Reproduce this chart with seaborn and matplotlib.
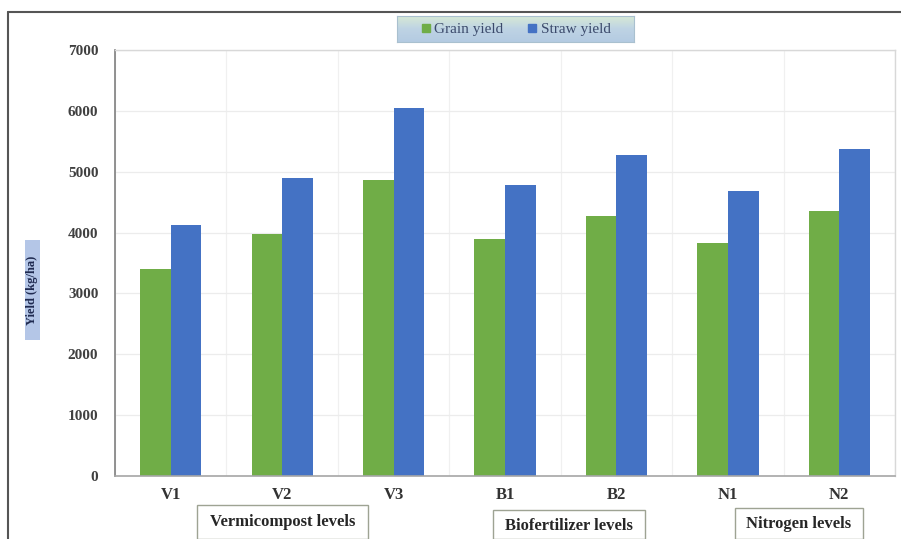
import matplotlib
matplotlib.use("Agg")
import matplotlib.pyplot as plt
import seaborn as sns
import pandas as pd
import numpy as np
from matplotlib.patches import Rectangle
from matplotlib.lines import Line2D
from matplotlib.colors import LinearSegmentedColormap

# ---- data ----
categories = ["V1", "V2", "V3", "B1", "B2", "N1", "N2"]
grain_yield = [3400, 3980, 4870, 3900, 4280, 3830, 4350]
straw_yield = [4120, 4900, 6040, 4780, 5270, 4680, 5370]
series_names = ["Grain yield", "Straw yield"]
series_colors = ["#70AD47", "#4472C4"]
group_labels = ["Vermicompost levels", "Biofertilizer levels", "Nitrogen levels"]
y_ticks = [0, 1000, 2000, 3000, 4000, 5000, 6000, 7000]
y_label = "Yield (kg/ha)"

df = pd.DataFrame({
    "Category": categories * 2,
    "Series": [series_names[0]] * len(categories) + [series_names[1]] * len(categories),
    "Yield": grain_yield + straw_yield,
})

sns.set_theme(style="white")
plt.rcParams["font.family"] = ["Liberation Serif", "DejaVu Serif"]

W, H = 901, 539
fig = plt.figure(figsize=(W / 100, H / 100), dpi=100)
fig.patch.set_facecolor("white")

def fx(px):
    return px / W

def fy(py):
    return 1 - py / H

ax = fig.add_axes([fx(115), fy(476), 780 / W, 426 / H])
sns.barplot(data=df, x="Category", y="Yield", hue="Series", palette=series_colors,
            width=0.55, saturation=1, linewidth=0, legend=False, ax=ax)

ax.set_xlim(-0.5, len(categories) - 0.5)
ax.set_ylim(0, 7000)
ax.set_yticks(y_ticks)
ax.set_yticklabels([str(t) for t in y_ticks], fontsize=11, fontweight="bold", color="#404040")
ax.set_xticks(range(len(categories)))
ax.set_xticklabels(categories, fontsize=12, fontweight="bold", color="#333333")
ax.set_xticks(np.arange(-0.5, len(categories), 1), minor=True)
ax.tick_params(axis="both", which="both", length=0)
ax.tick_params(axis="y", pad=12)
ax.tick_params(axis="x", pad=8)
ax.set_xlabel("")
ax.set_ylabel("")
ax.set_axisbelow(True)
ax.grid(axis="y", which="major", color="#ececec", linewidth=0.9)
ax.grid(axis="x", which="minor", color="#f0f0f0", linewidth=0.9)
for s in ["top", "right"]:
    ax.spines[s].set_color("#d8d8d8")
    ax.spines[s].set_linewidth(1.0)
ax.spines["left"].set_color("#7f7f7f")
ax.spines["left"].set_linewidth(1.2)
ax.spines["bottom"].set_color("#a6a6a6")
ax.spines["bottom"].set_linewidth(1.2)

# outer frame (top and left edges visible)
fig.add_artist(Line2D([fx(8), 1.0], [fy(12), fy(12)], color="#555555", linewidth=1.5,
                      transform=fig.transFigure))
fig.add_artist(Line2D([fx(8), fx(8)], [fy(12), 0.0], color="#555555", linewidth=1.5,
                      transform=fig.transFigure))

# legend background with gradient
lax = fig.add_axes([fx(397), fy(42), 237 / W, 26 / H], zorder=-1)
grad_cmap = LinearSegmentedColormap.from_list("g", ["#d6e9d6", "#bed3e4", "#b4cbe2"])
lax.imshow(np.linspace(0, 1, 50).reshape(-1, 1), aspect="auto", cmap=grad_cmap,
           extent=[0, 1, 0, 1], origin="upper")
lax.set_xticks([])
lax.set_yticks([])
for s in lax.spines.values():
    s.set_color("#a9c0cf")
    s.set_linewidth(0.8)

handles = [Line2D([0], [0], marker="s", linestyle="", markersize=6,
                  markerfacecolor=c, markeredgecolor=c) for c in series_colors]
leg = fig.legend(handles, series_names, loc="center", bbox_to_anchor=(fx(515), fy(29)),
                 ncol=2, frameon=False, fontsize=11, handletextpad=0.15,
                 columnspacing=1.5, handlelength=0.8)
for t in leg.get_texts():
    t.set_color("#3b4a6b")

# y-axis label in a light blue box
fig.add_artist(Rectangle((fx(25), fy(340)), 15 / W, 100 / H, transform=fig.transFigure,
                         facecolor="#b4c6e7", edgecolor="none"))
fig.text(fx(32.5), fy(290), y_label, rotation=90, ha="center", va="center",
         fontsize=9, fontweight="bold", color="#1f2a50")

# group label boxes
group_boxes = [(197, 505, 368), (493, 510, 645), (735, 508, 863)]
group_text_y = [522, 526, 524]
for (x0, y0, x1), ty, label in zip(group_boxes, group_text_y, group_labels):
    fig.add_artist(Rectangle((fx(x0), 0.0), (x1 - x0) / W, fy(y0), transform=fig.transFigure,
                             facecolor="white", edgecolor="#9ea393", linewidth=1.0))
    fig.text(fx((x0 + x1) / 2), fy(ty), label, ha="center", va="center",
             fontsize=12, fontweight="bold", color="#262626")

fig.savefig("out.png", dpi=100)
